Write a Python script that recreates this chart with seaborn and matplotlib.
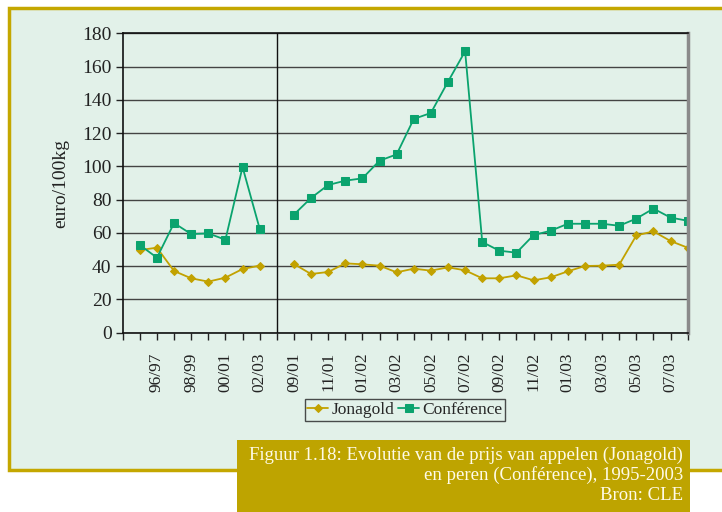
import numpy as np
import pandas as pd
import matplotlib
matplotlib.use("Agg")
import matplotlib.pyplot as plt
from matplotlib.patches import Rectangle
import seaborn as sns

# ---- data ----
years = ["95/96", "96/97", "97/98", "98/99", "99/00", "00/01", "01/02", "02/03"]
jona_years = [49.7, 51.1, 37.1, 32.7, 30.7, 33.1, 38.3, 40.3]
conf_years = [52.7, 45.1, 65.9, 59.3, 59.7, 55.9, 99.6, 62.5]

months = ["09/01", "10/01", "11/01", "12/01", "01/02", "02/02", "03/02", "04/02",
          "05/02", "06/02", "07/02", "08/02", "09/02", "10/02", "11/02", "12/02",
          "01/03", "02/03", "03/03", "04/03", "05/03", "06/03", "07/03", "08/03"]
jona_months = [41.3, 35.3, 36.5, 41.7, 41.1, 40.3, 36.3, 38.5, 37.3, 39.3, 37.5, 32.7,
               32.7, 34.5, 31.5, 33.3, 36.9, 40.1, 40.3, 40.9, 58.5, 60.9, 55.1, 51.1]
conf_months = [71.0, 81.0, 88.8, 91.4, 92.8, 103.4, 107.2, 128.5, 132.1, 150.9, 169.2, 54.5,
               49.3, 48.1, 58.7, 61.3, 65.5, 65.5, 65.5, 64.3, 68.6, 74.6, 69.2, 67.3]

yticks = [0, 20, 40, 60, 80, 100, 120, 140, 160, 180]
ylabel = "euro/100kg"
series_names = ["Jonagold", "Conférence"]
caption = ("Figuur 1.18: Evolutie van de prijs van appelen (Jonagold)\n"
           "en peren (Conférence), 1995-2003\nBron: CLE")

# category axis: blank, years, blank (separator), months
cats = [""] + years + [""] + months
jona = [np.nan] + jona_years + [np.nan] + jona_months
conf = [np.nan] + conf_years + [np.nan] + conf_months
sep_index = 1 + len(years)

df = pd.DataFrame({"pos": np.arange(len(cats)), "cat": cats,
                   series_names[0]: jona, series_names[1]: conf})

# ---- style ----
sns.set_style("white")
plt.rcParams["font.family"] = ["Liberation Serif", "DejaVu Serif"]

W, H = 722, 512
fig = plt.figure(figsize=(W / 100, H / 100), dpi=100, facecolor="white")

mint = "#e2f1e9"
olive = "#c4a700"
box_olive = "#bea400"
green = "#0aa36e"
gold = "#c2a200"

def px(x0, y0, x1, y1):
    return (x0 / W, 1 - y1 / H, (x1 - x0) / W, (y1 - y0) / H)

bx, by, bw, bh = px(9, 8, 740, 470)
fig.patches.append(Rectangle((bx, by), bw, bh, transform=fig.transFigure,
                             facecolor=mint, edgecolor=olive, linewidth=2.5, zorder=-5))

ax = fig.add_axes(px(122.7, 33.3, 687.7, 332.7))
ax.set_facecolor(mint)
ax.set_zorder(1)

# separate segments so the line breaks at the separator
for name, color, marker, ms in [(series_names[0], gold, "D", 4.0),
                                (series_names[1], green, "s", 5.6)]:
    part1 = df.iloc[:sep_index]
    part2 = df.iloc[sep_index + 1:]
    for i, part in enumerate([part1, part2]):
        sns.lineplot(data=part, x="pos", y=name, ax=ax, color=color, marker=marker,
                     markersize=ms, markeredgecolor=color, linewidth=1.3,
                     label=name if i == 0 else None, legend=False)

ax.set_xlim(0, len(cats) - 1)
ax.set_ylim(0, 180)
ax.set_yticks(yticks)
ax.set_yticklabels([str(v) for v in yticks], fontsize=14, color="#222222")
ax.yaxis.grid(True, color="#444444", linewidth=1.0)
ax.set_axisbelow(True)

ax.set_xticks(np.arange(len(cats)))
ax.set_xticklabels([c if (i % 2 == 0 and c) else "" for i, c in enumerate(cats)],
                   rotation=90, fontsize=12.5, color="#222222")
ax.tick_params(axis="x", length=5, width=1, color="#222222", pad=9, bottom=True)
ax.tick_params(axis="y", length=5, width=1, color="#222222", pad=3, left=True)

ax.axvline(sep_index, color="#111111", linewidth=1.0)

for s in ["left", "bottom", "top"]:
    ax.spines[s].set_color("#111111")
    ax.spines[s].set_linewidth(1.2)
ax.spines["right"].set_color("#8a8a8a")
ax.spines["right"].set_linewidth(2.5)

ax.set_xlabel("")
ax.set_ylabel(ylabel, fontsize=14, color="#222222", labelpad=9)

handles, labels = ax.get_legend_handles_labels()
leg = fig.legend(handles, labels, loc="center", bbox_to_anchor=(405 / W, 1 - 410 / H),
                 ncol=2, frameon=True, fancybox=False, fontsize=12.5,
                 handlelength=1.2, handletextpad=0.2, columnspacing=0.2,
                 borderpad=0.15, borderaxespad=0.1, edgecolor="#222222")
leg.get_frame().set_linewidth(1.0)
leg.get_frame().set_facecolor(mint)

cx, cy, cw, ch = px(237, 440, 690, 512)
fig.patches.append(Rectangle((cx, cy), cw, ch, transform=fig.transFigure,
                             facecolor=box_olive, edgecolor="none", zorder=1))
fig.text(683 / W, 1 - 475 / H, caption, ha="right", va="center", fontsize=13.5,
         color="#fffbe8", linespacing=1.2, zorder=2)

fig.savefig("out.png", dpi=100, facecolor="white")
